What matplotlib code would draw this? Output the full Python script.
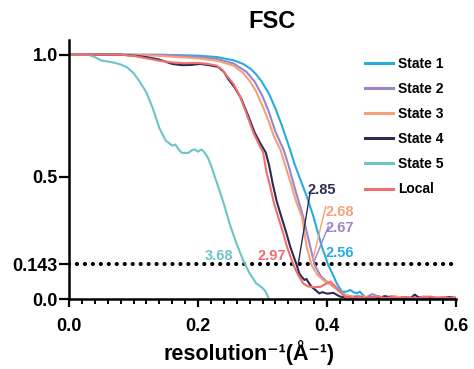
import numpy as np
import matplotlib
matplotlib.use('Agg')
import matplotlib.pyplot as plt
from matplotlib.ticker import MultipleLocator

plt.rcParams['font.family'] = ['Liberation Sans', 'DejaVu Sans']
plt.rcParams['font.weight'] = 'bold'

# FSC curves
s1_x = [0, 0.10, 0.15, 0.20, 0.23, 0.255, 0.27, 0.281, 0.29, 0.299, 0.31, 0.32, 0.33, 0.343,
        0.35, 0.361, 0.37, 0.379, 0.392, 0.402, 0.41, 0.415, 0.423, 0.43, 0.436, 0.441, 0.446,
        0.451, 0.456, 0.46, 0.47, 0.48, 0.49, 0.50, 0.51, 0.52, 0.53, 0.54, 0.55, 0.56, 0.57,
        0.58, 0.59, 0.60]
s1_y = [1.0, 1.0, 0.999, 0.996, 0.99, 0.977, 0.962, 0.943, 0.92, 0.889, 0.84, 0.78, 0.71, 0.609,
        0.55, 0.473, 0.41, 0.337, 0.214, 0.139, 0.095, 0.064, 0.03, 0.03, 0.037, 0.028, 0.023,
        0.03, 0.016, 0.008, 0.005, 0.01, 0.004, 0.008, 0.003, 0.006, 0.004, 0.002, 0.006, 0.003,
        0.005, 0.002, 0.004, 0.003]

s2_x = [0, 0.15, 0.203, 0.23, 0.255, 0.275, 0.288, 0.30, 0.31, 0.32, 0.333, 0.34, 0.348, 0.356,
        0.363, 0.374, 0.381, 0.39, 0.40, 0.41, 0.42, 0.43, 0.44, 0.45, 0.46, 0.47, 0.48, 0.49,
        0.50, 0.51, 0.52, 0.53, 0.54, 0.55, 0.56, 0.57, 0.58, 0.59, 0.60]
s2_y = [1.0, 0.999, 0.99, 0.982, 0.964, 0.93, 0.889, 0.83, 0.765, 0.685, 0.609, 0.55, 0.473, 0.40,
        0.337, 0.214, 0.139, 0.095, 0.07, 0.05, 0.03, 0.015, 0.01, 0.012, 0.006, 0.02, 0.01, 0.005,
        0.012, 0.004, 0.008, 0.003, 0.006, 0.01, 0.004, 0.006, 0.003, 0.008, 0.004]

s3_x = [0, 0.12, 0.20, 0.23, 0.255, 0.27, 0.281, 0.29, 0.30, 0.31, 0.317, 0.328, 0.336, 0.344,
        0.352, 0.361, 0.3685, 0.376, 0.385, 0.395, 0.405, 0.415, 0.425, 0.435, 0.445, 0.455, 0.465,
        0.475, 0.485, 0.495, 0.505, 0.515, 0.525, 0.535, 0.545, 0.555, 0.565, 0.575, 0.585, 0.595,
        0.60]
s3_y = [1.0, 0.998, 0.985, 0.975, 0.955, 0.925, 0.889, 0.85, 0.79, 0.725, 0.67, 0.609, 0.54, 0.473,
        0.40, 0.337, 0.214, 0.139, 0.10, 0.075, 0.06, 0.04, 0.02, 0.01, 0.006, 0.012, 0.004, 0.01,
        0.003, 0.007, 0.012, 0.004, 0.008, 0.003, 0.006, 0.01, 0.004, 0.007, 0.003, 0.008, 0.005]

s4_x = [0, 0.08, 0.10, 0.12, 0.14, 0.16, 0.175, 0.19, 0.203, 0.215, 0.231, 0.24, 0.247, 0.257,
        0.267, 0.277, 0.288, 0.297, 0.305, 0.31, 0.316, 0.322, 0.33, 0.337, 0.343, 0.353, 0.357,
        0.361, 0.365, 0.368, 0.372, 0.376, 0.382, 0.388, 0.393, 0.40, 0.41, 0.42, 0.43, 0.44, 0.45,
        0.46, 0.47, 0.48, 0.49, 0.50, 0.51, 0.52, 0.53, 0.536, 0.542, 0.55, 0.56, 0.57, 0.58, 0.59,
        0.60]
s4_y = [1.0, 1.0, 0.996, 0.99, 0.98, 0.962, 0.957, 0.958, 0.962, 0.958, 0.95, 0.93, 0.90, 0.865,
        0.82, 0.755, 0.68, 0.635, 0.60, 0.55, 0.47, 0.40, 0.33, 0.27, 0.214, 0.139, 0.105,
        0.09, 0.078, 0.082, 0.065, 0.05, 0.037, 0.023, 0.028, 0.022, 0.025, 0.01, 0.006, 0.004,
        0.008, 0.003, 0.006, 0.004, 0.012, 0.005, 0.003, 0.006, 0.004, 0.018, 0.006, 0.004, 0.008,
        0.003, 0.005, 0.007, 0.003]

s5_x = [0, 0.03, 0.04, 0.05, 0.06, 0.07, 0.08, 0.09, 0.10, 0.11, 0.12, 0.13, 0.14, 0.15, 0.16,
        0.165, 0.17, 0.175, 0.185, 0.19, 0.195, 0.20, 0.205, 0.21, 0.215, 0.22, 0.23, 0.24, 0.25,
        0.26, 0.27, 0.28, 0.29, 0.30, 0.305, 0.31]
s5_y = [1.0, 1.0, 0.99, 0.976, 0.972, 0.967, 0.96, 0.948, 0.925, 0.888, 0.845, 0.78, 0.70, 0.648,
        0.628, 0.632, 0.612, 0.598, 0.598, 0.608, 0.612, 0.603, 0.612, 0.60, 0.58, 0.548, 0.47,
        0.39, 0.30, 0.225, 0.158, 0.105, 0.065, 0.045, 0.03, 0.0]

loc_x = [0, 0.08, 0.10, 0.12, 0.14, 0.16, 0.18, 0.20, 0.215, 0.229, 0.237, 0.244, 0.255, 0.265,
         0.275, 0.286, 0.295, 0.301, 0.306, 0.312, 0.317, 0.325, 0.332, 0.338, 0.348, 0.355, 0.363,
         0.37, 0.38, 0.39, 0.398, 0.405, 0.41, 0.42, 0.43, 0.44, 0.45, 0.46, 0.47, 0.48, 0.49, 0.50,
         0.51, 0.52, 0.53, 0.54, 0.55, 0.56, 0.57, 0.58, 0.59, 0.60]
loc_y = [1.0, 1.0, 0.995, 0.985, 0.975, 0.968, 0.965, 0.966, 0.962, 0.955, 0.94, 0.916, 0.88, 0.83,
         0.76, 0.68, 0.63, 0.60, 0.52, 0.46, 0.40, 0.33, 0.27, 0.214, 0.139, 0.10, 0.064,
         0.052, 0.048, 0.05, 0.062, 0.071, 0.06, 0.03, 0.005, 0.004, 0.008, 0.003, 0.006, 0.01,
         0.004, 0.007, 0.003, 0.008, 0.005, 0.003, 0.006, 0.01, 0.004, 0.007, 0.003, 0.006]

labels = ['State 1', 'State 2', 'State 3', 'State 4', 'State 5', 'Local']
resolutions = ['2.56', '2.67', '2.68', '2.85', '3.68', '2.97']
colors = ['#29ABE2', '#9B85C4', '#F5A07C', '#2D2B4F', '#6DC4C6', '#EF6F6F']

series = [(s1_x, s1_y), (s2_x, s2_y), (s3_x, s3_y), (s4_x, s4_y), (s5_x, s5_y), (loc_x, loc_y)]
threshold = 0.143

fig = plt.figure(figsize=(4.74, 3.69), dpi=100)
ax = fig.add_axes([0.1456, 0.1897, 0.8164, 0.7019])

for (xs, ys), lab, col in zip(series, labels, colors):
    ax.plot(xs, ys, color=col, lw=1.5, label=lab)

ax.plot([0, 0.6], [threshold, threshold], color='black', lw=3,
        linestyle=(0, (0.01, 1.9)), dash_capstyle='round', zorder=1)

# resolution labels
ax.text(0.232, 0.176, resolutions[4], color=colors[4], fontsize=10.5, ha='center', va='center')
ax.text(0.314, 0.176, resolutions[5], color=colors[5], fontsize=10.5, ha='center', va='center')
ax.text(0.392, 0.446, resolutions[3], color=colors[3], fontsize=10.5, ha='center', va='center')
ax.text(0.42, 0.357, resolutions[2], color=colors[2], fontsize=10.5, ha='center', va='center')
ax.text(0.419, 0.289, resolutions[1], color=colors[1], fontsize=10.5, ha='center', va='center')
ax.text(0.42, 0.187, resolutions[0], color=colors[0], fontsize=10.5, ha='center', va='center')
ax.plot([0.3555, 0.3736], [0.146, 0.432], color=colors[3], lw=1)
ax.plot([0.378, 0.398], [0.16, 0.378], color=colors[2], lw=1)
ax.plot([0.381, 0.402], [0.16, 0.296], color=colors[1], lw=1)

ax.set_xlim(0, 0.6)
ax.set_ylim(0, 1.06)
ax.set_xticks([0, 0.2, 0.4, 0.6])
ax.set_xticklabels(['0.0', '0.2', '0.4', '0.6'])
ax.xaxis.set_minor_locator(MultipleLocator(0.02))
ax.set_yticks([0, threshold, 0.5, 1.0])
ax.set_yticklabels(['0.0', '0.143', '0.5', '1.0'])
ax.tick_params(axis='both', which='major', labelsize=13, width=1.6, length=6, direction='out')
ax.tick_params(axis='x', which='major', pad=7.5)
ax.tick_params(axis='y', which='major', pad=1, length=7)
ax.tick_params(axis='x', which='minor', width=1.4, length=3.5)
for lab in ax.get_xticklabels() + ax.get_yticklabels():
    lab.set_fontweight('bold')

for side in ['top', 'right']:
    ax.spines[side].set_visible(False)
for side in ['left', 'bottom']:
    ax.spines[side].set_linewidth(1.8)

xlab = ax.set_xlabel('resolution\u207b\u00b9(Å\u207b\u00b9)', fontsize=15.5, fontweight='bold')
xlab.set_va('center')
ax.xaxis.set_label_coords(0.464, -0.208)
fig.text(272 / 474, 1 - 22 / 369, 'FSC', fontsize=17, fontweight='bold', ha='center', va='center')

leg = ax.legend(loc='upper left', bbox_to_anchor=(0.765, 0.935), frameon=False, fontsize=10,
                handlelength=2.0, handletextpad=0.4, labelspacing=0.8, borderpad=0, borderaxespad=0)
for line in leg.get_lines():
    line.set_linewidth(2.2)

fig.savefig('out.png', dpi=100)
